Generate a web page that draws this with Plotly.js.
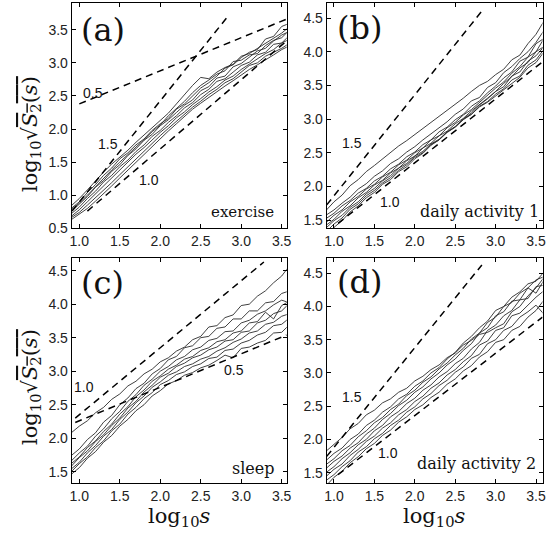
<!DOCTYPE html>
<html><head><meta charset="utf-8">
<script src="https://cdn.plot.ly/plotly-3.0.1.min.js"></script>
<style>html,body{margin:0;padding:0;background:#fff}</style>
</head><body><div id="chart" style="width:552px;height:534px"></div>
<script>
// common x grid: log10 s
const logS = [0.9,1.0,1.1,1.2,1.3,1.4,1.5,1.6,1.7,1.8,1.9,2.0,2.1,2.2,2.3,2.4,2.5,2.6,2.7,2.8,2.9,3.0,3.1,3.2,3.3,3.4,3.5,3.6];
const xTicks = [1.0,1.5,2.0,2.5,3.0,3.5];
const yTicksA = [0.5,1.0,1.5,2.0,2.5,3.0,3.5];
const yTicksB = [1.5,2.0,2.5,3.0,3.5,4.0,4.5];

// (a) exercise
const exA1 = [0.84,0.95,1.08,1.22,1.35,1.47,1.57,1.68,1.80,1.91,2.02,2.12,2.24,2.38,2.52,2.66,2.78,2.76,2.86,2.93,2.98,3.10,3.14,3.22,3.30,3.38,3.45,3.55];
const exA2 = [0.80,0.90,1.04,1.16,1.30,1.41,1.55,1.64,1.76,1.85,1.98,2.08,2.16,2.30,2.38,2.50,2.62,2.70,2.80,2.92,2.97,3.08,3.16,3.20,3.36,3.40,3.55,3.60];
const exA3 = [0.75,0.87,0.98,1.12,1.22,1.36,1.46,1.60,1.70,1.83,1.92,2.05,2.14,2.25,2.36,2.44,2.58,2.64,2.77,2.80,2.94,2.99,3.08,3.18,3.22,3.33,3.42,3.48];
const exA4 = [0.72,0.82,0.95,1.06,1.20,1.30,1.43,1.53,1.66,1.76,1.89,1.98,2.10,2.20,2.32,2.40,2.52,2.60,2.72,2.76,2.86,2.96,3.01,3.12,3.16,3.28,3.30,3.42];
const exA5 = [0.68,0.78,0.90,1.02,1.14,1.26,1.38,1.50,1.62,1.72,1.84,1.95,2.05,2.17,2.26,2.37,2.46,2.56,2.64,2.74,2.80,2.90,2.98,3.06,3.14,3.20,3.30,3.36];
const exA6 = [0.66,0.74,0.85,0.96,1.08,1.19,1.31,1.43,1.55,1.67,1.78,1.90,2.01,2.12,2.23,2.33,2.42,2.52,2.60,2.70,2.76,2.86,2.96,3.00,3.10,3.16,3.22,3.30];
const exA7 = [0.78,0.88,1.00,1.13,1.25,1.38,1.50,1.61,1.73,1.84,1.96,2.06,2.20,2.31,2.42,2.55,2.66,2.74,2.83,2.88,3.02,3.04,3.12,3.14,3.26,3.34,3.38,3.50];
const exA8 = [0.63,0.71,0.80,0.91,1.02,1.14,1.26,1.38,1.50,1.62,1.74,1.86,1.97,2.08,2.19,2.30,2.39,2.48,2.56,2.65,2.73,2.82,2.90,2.97,3.04,3.12,3.20,3.26];
// reference slopes (a)
const refA15x = [0.91,2.84], refA15y = [0.76,3.71];
const refA10x = [1.10,3.56], refA10y = [0.76,3.33];
const refA05x = [1.00,3.56], refA05y = [2.38,3.66];

// (b) daily activity 1
const daB1 = [1.64,1.77,1.87,2.01,2.10,2.22,2.31,2.41,2.50,2.60,2.68,2.77,2.85,2.95,3.03,3.13,3.22,3.31,3.41,3.50,3.56,3.66,3.74,3.88,3.95,4.12,4.26,4.46];
const daB2 = [1.57,1.65,1.75,1.84,1.96,2.04,2.15,2.23,2.34,2.41,2.51,2.59,2.69,2.78,2.88,2.96,3.07,3.15,3.27,3.32,3.47,3.54,3.69,3.78,3.90,4.00,4.14,4.32];
const daB3 = [1.52,1.60,1.71,1.79,1.90,1.97,2.08,2.15,2.26,2.33,2.44,2.51,2.62,2.69,2.81,2.88,2.99,3.07,3.19,3.27,3.39,3.49,3.61,3.70,3.86,3.92,4.12,4.20];
const daB4 = [1.46,1.57,1.65,1.77,1.85,1.96,2.03,2.14,2.21,2.32,2.39,2.50,2.57,2.69,2.75,2.87,2.95,3.06,3.14,3.25,3.35,3.46,3.55,3.68,3.78,3.92,4.00,4.20];
const daB5 = [1.42,1.51,1.63,1.71,1.83,1.91,2.02,2.09,2.20,2.27,2.38,2.45,2.57,2.64,2.75,2.82,2.93,3.01,3.12,3.21,3.31,3.41,3.53,3.63,3.76,3.84,4.00,4.08];
const daB6 = [1.38,1.49,1.57,1.69,1.77,1.89,1.97,2.08,2.16,2.27,2.34,2.45,2.52,2.63,2.70,2.81,2.89,3.00,3.07,3.19,3.26,3.37,3.45,3.58,3.64,3.80,3.88,4.04];
const daB7 = [1.32,1.44,1.53,1.66,1.74,1.86,1.94,2.05,2.13,2.24,2.32,2.43,2.50,2.62,2.69,2.80,2.88,2.99,3.07,3.18,3.25,3.34,3.43,3.53,3.62,3.76,3.84,4.00];
const daB8 = [1.26,1.39,1.49,1.62,1.71,1.83,1.91,2.03,2.10,2.22,2.29,2.41,2.49,2.61,2.69,2.81,2.88,3.00,3.09,3.21,3.30,3.41,3.48,3.64,3.70,3.86,3.94,4.08];
const refB15x = [0.91,2.84], refB15y = [1.725,4.62];
const refB10x = [1.05,3.58], refB10y = [1.45,3.85];

// (c) sleep
const slC1 = [2.08,2.18,2.26,2.38,2.46,2.58,2.66,2.78,2.85,2.96,3.03,3.14,3.20,3.30,3.36,3.47,3.52,3.66,3.68,3.80,3.84,3.98,4.00,4.12,4.20,4.32,4.42,4.58];
const slC2 = [1.74,1.84,1.98,2.08,2.24,2.34,2.50,2.60,2.74,2.82,2.96,3.04,3.17,3.22,3.35,3.38,3.50,3.52,3.64,3.66,3.78,3.78,3.90,3.90,4.02,4.04,4.16,4.20];
const slC3 = [1.66,1.78,1.88,2.03,2.14,2.29,2.40,2.55,2.65,2.79,2.88,3.00,3.07,3.17,3.22,3.32,3.36,3.46,3.49,3.59,3.60,3.72,3.76,3.85,3.90,3.99,4.06,4.02];
const slC4 = [1.62,1.72,1.86,1.96,2.10,2.21,2.36,2.47,2.62,2.72,2.85,2.93,3.03,3.09,3.18,3.22,3.31,3.35,3.44,3.47,3.57,3.60,3.72,3.74,3.88,3.78,3.98,4.05];
const slC5 = [1.58,1.71,1.81,1.95,2.05,2.19,2.30,2.45,2.55,2.69,2.79,2.91,2.97,3.07,3.12,3.20,3.24,3.32,3.36,3.45,3.47,3.58,3.60,3.72,3.76,3.86,3.90,4.02];
const slC6 = [1.54,1.64,1.78,1.89,2.03,2.13,2.28,2.39,2.53,2.63,2.76,2.84,2.94,2.99,3.07,3.11,3.18,3.22,3.30,3.35,3.43,3.48,3.57,3.60,3.70,3.73,3.82,3.86];
const slC7 = [1.50,1.62,1.72,1.86,1.96,2.11,2.21,2.36,2.46,2.59,2.68,2.80,2.86,2.95,2.99,3.07,3.11,3.19,3.21,3.31,3.33,3.42,3.46,3.54,3.58,3.68,3.70,3.80];
const slC8 = [1.46,1.56,1.70,1.80,1.94,2.04,2.18,2.28,2.41,2.50,2.63,2.71,2.81,2.86,2.94,2.98,3.05,3.09,3.16,3.24,3.20,3.34,3.36,3.42,3.46,3.57,3.58,3.70];
const refC10x = [0.95,3.28], refC10y = [2.30,4.63];
const refC05x = [0.95,3.56], refC05y = [2.235,3.54];

// (d) daily activity 2
const daD1 = [1.82,1.93,2.03,2.16,2.24,2.37,2.44,2.55,2.61,2.71,2.77,2.88,2.95,3.05,3.12,3.23,3.30,3.42,3.49,3.58,3.61,3.68,3.74,3.92,4.00,4.16,4.28,4.44];
const daD2 = [1.68,1.79,1.87,2.00,2.08,2.21,2.29,2.41,2.49,2.61,2.68,2.80,2.88,3.00,3.08,3.21,3.31,3.45,3.55,3.68,3.78,3.94,4.00,4.14,4.22,4.34,4.38,4.52];
const daD3 = [1.62,1.71,1.83,1.91,2.04,2.13,2.25,2.33,2.45,2.53,2.66,2.74,2.86,2.94,3.06,3.15,3.27,3.37,3.51,3.60,3.76,3.84,4.00,4.06,4.20,4.28,4.40,4.45];
const daD4 = [1.56,1.67,1.75,1.87,1.95,2.08,2.17,2.30,2.39,2.51,2.59,2.71,2.79,2.91,3.00,3.12,3.21,3.34,3.44,3.60,3.68,3.86,3.92,4.08,4.10,4.28,4.20,4.40];
const daD5 = [1.50,1.59,1.71,1.80,1.92,2.00,2.13,2.21,2.34,2.42,2.54,2.62,2.74,2.82,2.94,3.02,3.14,3.22,3.36,3.46,3.64,3.72,3.86,3.94,4.10,4.12,4.30,4.32];
const daD6 = [1.44,1.55,1.63,1.76,1.85,1.97,2.05,2.17,2.25,2.37,2.45,2.57,2.65,2.77,2.85,2.97,3.05,3.17,3.26,3.42,3.48,3.64,3.68,3.86,3.90,4.02,4.14,4.24];
const daD7 = [1.38,1.47,1.59,1.68,1.81,1.89,2.01,2.09,2.21,2.29,2.41,2.49,2.61,2.69,2.81,2.89,3.01,3.09,3.22,3.28,3.44,3.50,3.64,3.70,3.84,3.92,4.02,3.88];
const daD8 = [1.30,1.43,1.52,1.65,1.74,1.86,1.94,2.06,2.14,2.26,2.34,2.45,2.52,2.63,2.71,2.83,2.91,3.03,3.11,3.24,3.32,3.46,3.50,3.64,3.70,3.84,3.94,4.10];
const refD15x = [0.91,2.83], refD15y = [1.745,4.625];
const refD10x = [1.05,3.58], refD10y = [1.47,3.84];

const W = 552, H = 534;
const traces = [];
function curves(list, xa, ya) {
  list.forEach(v => traces.push({x: logS, y: v, xaxis: xa, yaxis: ya, type: 'scatter', mode: 'lines',
    line: {color: '#2a2a2a', width: 0.9}, hoverinfo: 'skip', showlegend: false}));
}
function ref(xs, ys, xa, ya) {
  traces.push({x: xs, y: ys, xaxis: xa, yaxis: ya, type: 'scatter', mode: 'lines',
    line: {color: '#000', width: 1.5, dash: '7px,5px'}, hoverinfo: 'skip', showlegend: false});
}
curves([exA1,exA2,exA3,exA4,exA5,exA6,exA7,exA8], 'x', 'y');
ref(refA15x, refA15y, 'x', 'y'); ref(refA10x, refA10y, 'x', 'y'); ref(refA05x, refA05y, 'x', 'y');
curves([daB1,daB2,daB3,daB4,daB5,daB6,daB7,daB8], 'x2', 'y2');
ref(refB15x, refB15y, 'x2', 'y2'); ref(refB10x, refB10y, 'x2', 'y2');
curves([slC1,slC2,slC3,slC4,slC5,slC6,slC7,slC8], 'x3', 'y3');
ref(refC10x, refC10y, 'x3', 'y3'); ref(refC05x, refC05y, 'x3', 'y3');
curves([daD1,daD2,daD3,daD4,daD5,daD6,daD7,daD8], 'x4', 'y4');
ref(refD15x, refD15y, 'x4', 'y4'); ref(refD10x, refD10y, 'x4', 'y4');

const sans = 'Liberation Sans';
const serif = 'DejaVu Serif';
const tickFont = {family: sans, size: 14, color: '#222'};
function ax(pxA, pxB, range, anchor, tv, horiz) {
  const dom = horiz ? [pxA / W, pxB / W] : [1 - pxB / H, 1 - pxA / H];
  return {domain: dom, range: range, anchor: anchor, tickvals: tv, tickformat: '.1f',
    ticks: 'inside', ticklen: 4, tickcolor: '#000', mirror: 'ticks', showline: true,
    linecolor: '#000', linewidth: 1, showgrid: false, zeroline: false, tickfont: tickFont, fixedrange: true};
}
const ann = [];
function txt(t, x, y, xref, yref, size, fam, xanchor, extra) {
  ann.push(Object.assign({text: t, x: x, y: y, xref: xref, yref: yref, showarrow: false,
    font: {family: fam, size: size, color: '#111'}, xanchor: xanchor || 'center', yanchor: 'middle'}, extra || {}));
}
// panel letters
txt('(a)', 103.3 / W, 1 - 30 / H, 'paper', 'paper', 32, serif);
txt('(b)', 359.3 / W, 1 - 28.5 / H, 'paper', 'paper', 32, serif);
txt('(c)', 102.7 / W, 1 - 283.3 / H, 'paper', 'paper', 32, serif);
txt('(d)', 359.3 / W, 1 - 281.7 / H, 'paper', 'paper', 32, serif);
// slope labels
txt('0.5', 1.17, 2.54, 'x', 'y', 14, sans);
txt('1.5', 1.355, 1.77, 'x', 'y', 14, sans);
txt('1.0', 1.865, 1.23, 'x', 'y', 14, sans);
txt('1.5', 1.22, 2.64, 'x2', 'y2', 14, sans);
txt('1.0', 1.69, 1.77, 'x2', 'y2', 14, sans);
txt('1.0', 1.06, 2.77, 'x3', 'y3', 14, sans);
txt('0.5', 2.91, 3.02, 'x3', 'y3', 14, sans);
txt('1.5', 1.22, 2.64, 'x4', 'y4', 14, sans);
txt('1.0', 1.67, 1.79, 'x4', 'y4', 14, sans);
// activity names
txt('exercise', 3.43, 0.74, 'x', 'y', 15, serif, 'right');
txt('daily activity 1', 3.56, 1.62, 'x2', 'y2', 16, serif, 'right');
txt('sleep', 3.44, 1.55, 'x3', 'y3', 16, serif, 'right');
txt('daily activity 2', 3.53, 1.64, 'x4', 'y4', 16, serif, 'right');
// axis titles
const yTitle = 'log<sub>10</sub>√<span style="text-decoration:overline"><i>S</i><sub>2</sub>(<i>s</i>)</span>';
const xTitle = 'log<sub>10</sub><i>s</i>';
txt(yTitle, 31 / W, 1 - 134 / H, 'paper', 'paper', 21, serif, 'center', {textangle: -90});
txt(yTitle, 31 / W, 1 - 387 / H, 'paper', 'paper', 21, serif, 'center', {textangle: -90});
txt(xTitle, 179.2 / W, 1 - 517 / H, 'paper', 'paper', 21, serif);
txt(xTitle, 434.9 / W, 1 - 517 / H, 'paper', 'paper', 21, serif);

const layout = {
  width: W, height: H, margin: {l: 0, r: 0, t: 0, b: 0},
  paper_bgcolor: '#fff', plot_bgcolor: '#fff', showlegend: false,
  xaxis: ax(71.7, 286.7, [0.906, 3.562], 'y', xTicks, true),
  yaxis: ax(3.3, 228.3, [0.5, 3.9], 'x', yTicksA, false),
  xaxis2: ax(326.7, 542.5, [0.91, 3.58], 'y2', xTicks, true),
  yaxis2: ax(3.3, 228.3, [1.377, 4.72], 'x2', yTicksB, false),
  xaxis3: ax(71.7, 286.7, [0.906, 3.562], 'y3', xTicks, true),
  yaxis3: ax(258.3, 483.3, [1.327, 4.685], 'x3', yTicksB, false),
  xaxis4: ax(326.7, 542.5, [0.91, 3.58], 'y4', xTicks, true),
  yaxis4: ax(258.3, 483.3, [1.34, 4.725], 'x4', yTicksB, false),
  annotations: ann
};
Plotly.newPlot('chart', traces, layout, {staticPlot: true, displayModeBar: false});
</script>
</body></html>
